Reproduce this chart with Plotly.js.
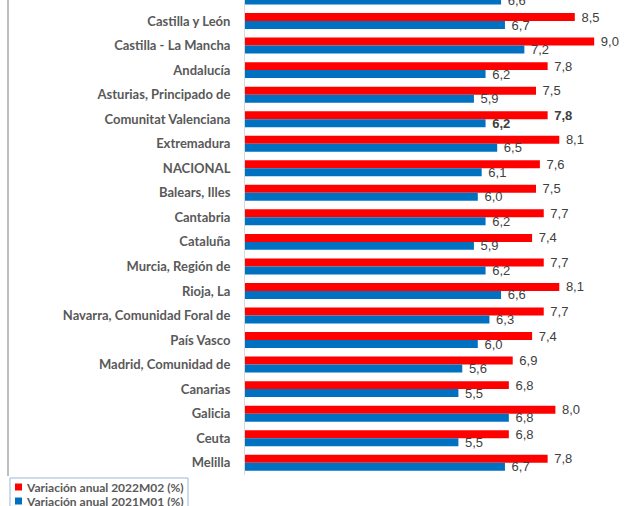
<!DOCTYPE html>
<html>
<head>
<meta charset="utf-8">
<script src="https://cdn.plot.ly/plotly-3.0.1.min.js"></script>
<style>html,body{margin:0;padding:0;background:#fff;}#chart{width:637px;height:506px;}</style>
</head>
<body>
<div id="chart"></div>
<script>
const categories = ["Aragón","Castilla y León","Castilla - La Mancha","Andalucía","Asturias, Principado de","Comunitat Valenciana","Extremadura","NACIONAL","Balears, Illes","Cantabria","Cataluña","Murcia, Región de","Rioja, La","Navarra, Comunidad Foral de","País Vasco","Madrid, Comunidad de","Canarias","Galicia","Ceuta","Melilla"];
const var2022M02 = [7.9,8.5,9.0,7.8,7.5,7.8,8.1,7.6,7.5,7.7,7.4,7.7,8.1,7.7,7.4,6.9,6.8,8.0,6.8,7.8];
const var2021M01 = [6.6,6.7,7.2,6.2,5.9,6.2,6.5,6.1,6.0,6.2,5.9,6.2,6.6,6.3,6.0,5.6,5.5,6.8,5.5,6.7];
const seriesNames = ["Variación anual 2022M02 (%)","Variación anual 2021M01 (%)"];
const seriesColors = ['#ff0000', '#0070c0'];
const boldCategory = "Comunitat Valenciana";

function labels(vals){
  return vals.map((v,i)=>{
    const s = ' ' + v.toFixed(1).replace('.', ',');
    return categories[i] === boldCategory ? '<b>' + s + '</b>' : s;
  });
}

const textFont = {family: "Liberation Sans, Arial, sans-serif", size: 13, color: "#404040"};

const traces = [var2022M02, var2021M01].map((vals, k) => ({
  type:'bar', orientation:'h', name: seriesNames[k], y: categories, x: vals,
  marker:{color: seriesColors[k]}, text: labels(vals), textposition:'outside',
  constraintext: 'none', cliponaxis: true,
  textfont: textFont, hoverinfo:'x'
}));

// plot-area pixel geometry helpers for the legend box
const L = 245, W = 388, T = 0, H = 475;
const px = x => (x - L) / W;
const py = y => (T + H - y) / H;

const shapes = [
  {type: 'line', xref: 'paper', yref: 'paper', x0: px(8), x1: px(8), y0: 1, y1: py(476),
   line: {color: '#bfbfbf', width: 2}},
  {type: 'rect', xref: 'paper', yref: 'paper', x0: px(10), x1: px(188), y0: py(478), y1: py(512),
   line: {color: '#9bb7d9', width: 1}, fillcolor: '#ffffff'}
];
const annotations = [];
seriesNames.forEach((name, k) => {
  const cy = 487 + k * 14;
  shapes.push({type: 'rect', xref: 'paper', yref: 'paper', x0: px(15), x1: px(22), y0: py(cy - 3.5), y1: py(cy + 3.5),
    line: {width: 0}, fillcolor: seriesColors[k]});
  annotations.push({xref: 'paper', yref: 'paper', x: px(24), y: py(cy), xanchor: 'left', yanchor: 'middle',
    text: name, showarrow: false,
    font: {family: 'Lato, sans-serif', size: 12, color: '#595959', weight: 'bold'}});
});

const layout = {
  width: 637, height: 506,
  margin: {l: L, r: 637 - L - W, t: T, b: 506 - T - H, autoexpand: false},
  paper_bgcolor: '#ffffff', plot_bgcolor: '#ffffff',
  barmode: 'group', bargap: 0.35, bargroupgap: 0,
  showlegend: false,
  xaxis: {range: [0, 10], visible: false, showgrid: false, zeroline: false},
  yaxis: {
    type: 'category', range: [19.5, 0.1425], autorange: false,
    showline: true, linecolor: '#d9d9d9', linewidth: 1,
    ticks: 'outside', ticklen: 11, tickcolor: 'rgba(0,0,0,0)',
    tickfont: {family: 'Lato, sans-serif', size: 13, color: '#595959', weight: 'bold'},
    showgrid: false
  },
  shapes: shapes,
  annotations: annotations
};

Plotly.newPlot('chart', traces, layout, {displayModeBar: false, staticPlot: true});
</script>
</body>
</html>
